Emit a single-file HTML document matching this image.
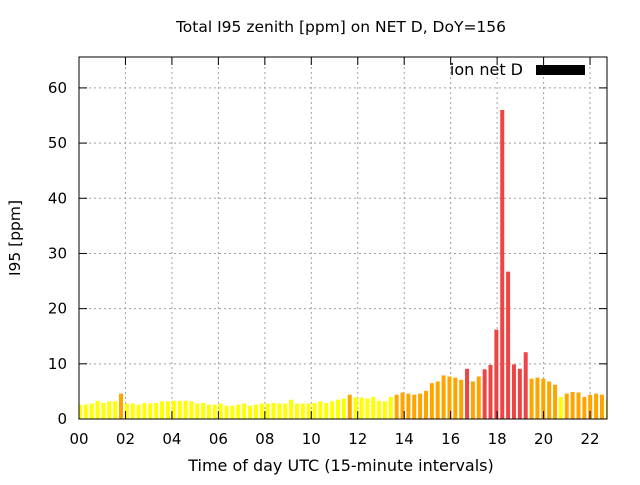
<!DOCTYPE html>
<html><head><meta charset="utf-8"><style>
body{margin:0;background:#fff;}
svg text{font-family:"DejaVu Sans","Liberation Sans",sans-serif;fill:#000;}
</style></head><body>
<svg id="chart" width="640" height="480" xmlns="http://www.w3.org/2000/svg">
<defs><clipPath id="pc"><rect x="79" y="57" width="528" height="362"/></clipPath></defs>
<rect width="640" height="480" fill="#fff"/>
<text x="341" y="32" font-size="15.5" text-anchor="middle">Total I95 zenith [ppm] on NET D, DoY=156</text>
<text x="0" y="0" font-size="15.5" text-anchor="middle" transform="translate(20,238) rotate(-90)">I95 [ppm]</text>
<text x="341" y="471" font-size="16" text-anchor="middle">Time of day UTC (15-minute intervals)</text>
<g id="grid"></g><g id="bars" clip-path="url(#pc)"></g><g id="axes"></g>
<g>
<text x="523" y="75" font-size="16" text-anchor="end">ion net D</text>
<rect x="536" y="65" width="49" height="10" fill="#000"/>
</g>
</svg>
<script>
const values=[2.6,2.6,2.8,3.3,2.9,3.2,3.2,4.6,2.8,2.8,2.6,2.9,2.8,2.9,3.2,3.2,3.3,3.3,3.3,3.2,2.8,2.9,2.6,2.6,2.8,2.4,2.4,2.6,2.8,2.4,2.6,2.8,2.8,2.9,2.8,2.8,3.5,2.8,2.8,2.8,2.9,3.2,2.9,3.2,3.5,3.7,
4.4,3.9,3.9,3.7,4.0,3.3,3.2,4.0,4.4,4.8,4.6,4.4,4.6,5.1,6.5,6.8,7.9,7.7,7.5,7.1,9.1,6.8,7.7,9.0,9.8,16.2,56,26.7,9.9,9.1,12.1,7.3,7.5,7.3,6.8,6.2,4.0,4.6,4.9,4.8,4.0,4.4,4.6,4.4,3.5];
const colors=["y","y","y","y","y","y","y","o","y","y","y","y","y","y","y","y","y","y","y","y","y","y","y","y","y","y","y","y","y","y","y","y","y","y","y","y","y","y","y","y","y","y","y","y","y","y",
"o","y","y","y","y","y","y","y","o","o","o","o","o","o","o","o","o","o","o","o","r","o","o","r","r","r","r","r","r","r","r","o","o","o","o","o","y","o","o","o","o","o","o","o","y"];
const xTicks=["00","02","04","06","08","10","12","14","16","18","20","22"];
const yTicks=[0,10,20,30,40,50,60];
const L=79,R=607,T=57,B=419,XMAX=22.73,YMAX=65.6;
const BAR_STEP=0.2525,BAR_OFF=0.04;
const xs=h=>L+h/XMAX*(R-L), ys=v=>B-v/YMAX*(B-T);
const NS="http://www.w3.org/2000/svg";
const mk=(t,a,p)=>{const e=document.createElementNS(NS,t);for(const k in a)e.setAttribute(k,a[k]);p.appendChild(e);return e;};
const grid=document.getElementById('grid'),bars=document.getElementById('bars'),axes=document.getElementById('axes');
const cmap={y:"#ffff00",o:"#ffa500",r:"#ef4444"};
yTicks.forEach(v=>{const y=ys(v);
 if(v>0){const g=mk('line',{x1:L,x2:R,y1:y,y2:y,stroke:'#a0a0a0','stroke-dasharray':'2,3','stroke-width':1},grid);
 
 }
 mk('line',{x1:L,x2:L+8,y1:y,y2:y,stroke:'#000'},axes);
 mk('line',{x1:R,x2:R-8,y1:y,y2:y,stroke:'#000'},axes);
 const t=mk('text',{x:L-12,y:y+5,'font-size':15,'text-anchor':'end'},axes);t.textContent=v;
 
 
});
xTicks.forEach((s,i)=>{const x=xs(i*2);
 if(i>0){const g=mk('line',{x1:x,x2:x,y1:T,y2:B,stroke:'#a0a0a0','stroke-dasharray':'2,3','stroke-width':1},grid);
 
 }
 mk('line',{x1:x,x2:x,y1:B,y2:B-8,stroke:'#000'},axes);
 mk('line',{x1:x,x2:x,y1:T,y2:T+8,stroke:'#000'},axes);
 const t=mk('text',{x:x,y:444,'font-size':15,'text-anchor':'middle'},axes);t.textContent=s;
 
 
});
values.forEach((v,i)=>{const c=xs(i*BAR_STEP+BAR_OFF),w=4;
 const b=mk('rect',{x:c-w/2,y:ys(v),width:w,height:B-ys(v),fill:cmap[colors[i]]},bars);
 
 
});
const f=mk('rect',{x:L,y:T,width:R-L,height:B-T,fill:'none',stroke:'#000','stroke-width':1},axes);


</script>
</body></html>
